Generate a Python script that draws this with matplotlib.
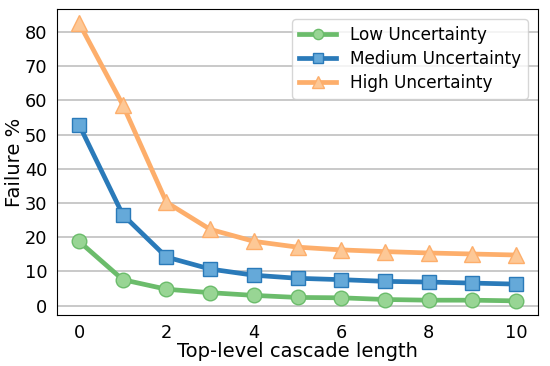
import matplotlib
matplotlib.use("Agg")
import matplotlib.pyplot as plt

x = [0, 1, 2, 3, 4, 5, 6, 7, 8, 9, 10]
low = [18.8, 7.6, 4.8, 3.8, 3.0, 2.4, 2.3, 1.8, 1.6, 1.6, 1.4]
medium = [52.9, 26.6, 14.2, 10.7, 8.9, 8.0, 7.6, 7.1, 6.9, 6.6, 6.3]
high = [82.6, 58.7, 30.2, 22.3, 18.8, 17.1, 16.3, 15.8, 15.4, 15.1, 14.8]

fig, ax = plt.subplots(figsize=(5.5, 3.66), dpi=100)

ax.plot(x, low, '-o', color='#6bbc6b', mfc='#98d594', mec='#6bbc6b', lw=3.4, ms=10.5, label="Low Uncertainty")
ax.plot(x, medium, '-s', color='#2a7ab9', mfc='#65a9d9', mec='#2a7ab9', lw=3.4, ms=10.5, label="Medium Uncertainty")
ax.plot(x, high, '-^', color='#fdae6b', mfc='#fdc896', mec='#fdae6b', lw=3.4, ms=11.5, label="High Uncertainty")

ax.set_xticks([0, 2, 4, 6, 8, 10])
ax.set_yticks([0, 10, 20, 30, 40, 50, 60, 70, 80])
ax.tick_params(labelsize=12.8, length=0, pad=7)
ax.grid(axis='y', color='#c0c0c0', lw=1.2)
ax.set_axisbelow(True)
ax.set_xlabel("Top-level cascade length", fontsize=14, labelpad=0)
ax.set_ylabel("Failure %", fontsize=14, labelpad=0.5)
ax.legend(loc='upper right', fontsize=12.2, handlelength=2.2, markerscale=0.7,
          labelspacing=0.35, borderaxespad=0.6)

plt.subplots_adjust(left=0.104, right=0.978, top=0.975, bottom=0.14)
plt.savefig("out.png")
